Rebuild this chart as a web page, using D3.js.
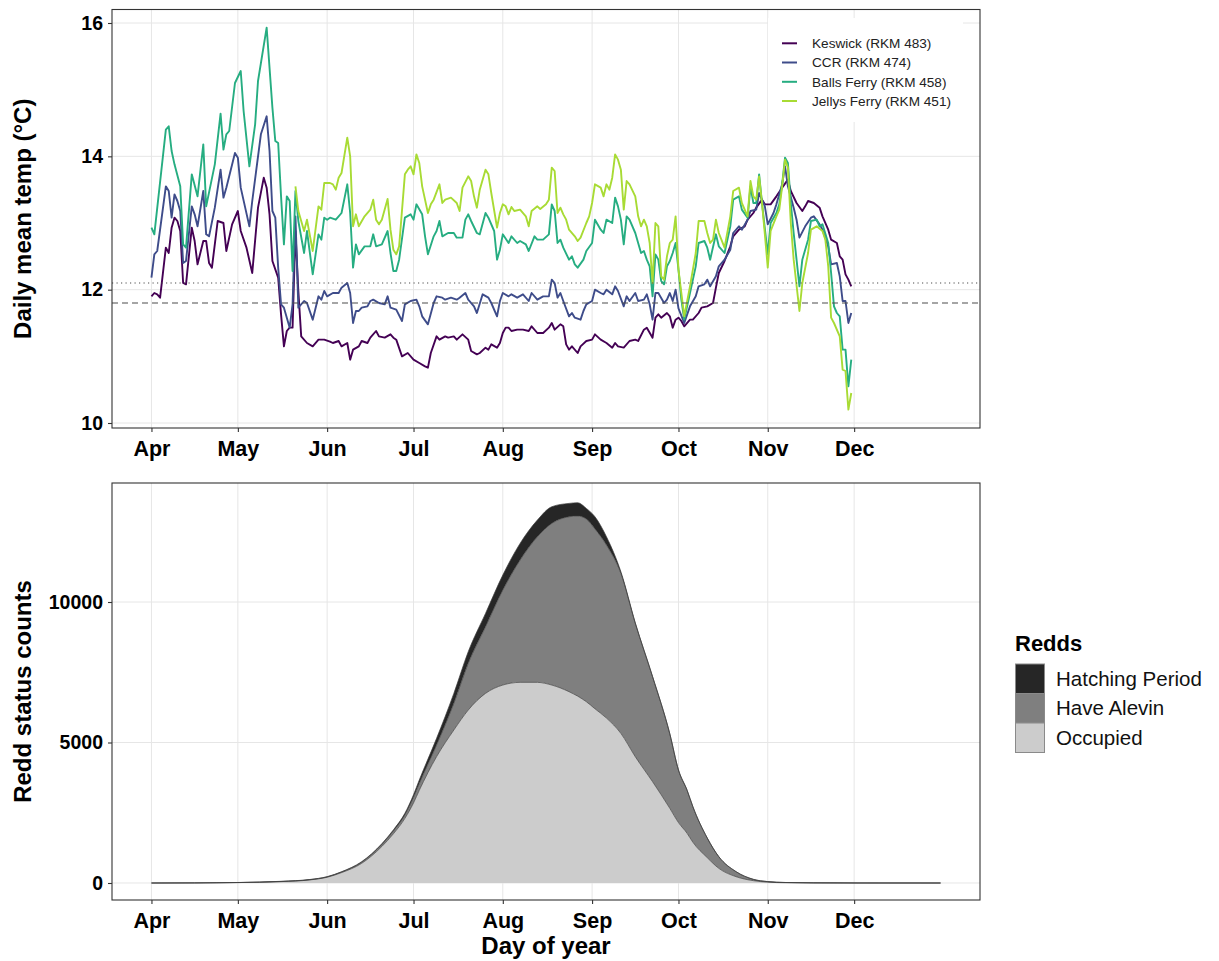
<!DOCTYPE html>
<html><head><meta charset="utf-8">
<script src="https://cdn.jsdelivr.net/npm/d3@7"></script>
<style>body{margin:0;background:#fff}svg{display:block}text{font-family:"Liberation Sans",Arial,sans-serif}</style>
</head><body><svg id="c" width="1219" height="961"></svg>
<script>
// ---------- DATA ----------
const monthLabels = ["Apr","May","Jun","Jul","Aug","Sep","Oct","Nov","Dec"];
const tempTicks = [10, 12, 14, 16];
const countTicks = [0, 5000, 10000];
const siteNames = ["Keswick (RKM 483)","CCR (RKM 474)","Balls Ferry (RKM 458)","Jellys Ferry (RKM 451)"];
const thresholdDotted = 12.1;
const thresholdDashed = 11.8;
// [day offset from Apr 1, daily mean temp °C]
const keswick = [[0,11.9],[1,11.95],[2,11.93],[3,11.88],[5,12.63],[6,12.55],[7,12.93],[8,13.08],[9,13.03],[10,12.88],[11,12.1],[12,12.08],[14,12.93],[15,12.73],[16,12.38],[18,12.73],[19,12.73],[20,12.4],[21,12.33],[23,13.03],[25,13.0],[26,12.58],[28,12.98],[30,13.18],[31,12.88],[33,12.63],[35,12.25],[37,13.23],[39,13.68],[40,13.53],[41,13.13],[42,12.43],[44,12.18],[45,11.63],[46,11.15],[47,11.38],[48,11.43],[49,11.43],[50,12.88],[51,11.98],[52,11.3],[54,11.2],[56,11.15],[58,11.25],[60,11.25],[62,11.22],[63,11.2],[65,11.23],[66,11.15],[68,11.2],[69,10.95],[70,11.1],[72,11.15],[73,11.23],[75,11.2],[76,11.28],[78,11.38],[79,11.3],[81,11.28],[83,11.33],[84,11.28],[85,11.25],[87,11.0],[89,11.05],[91,10.95],[93,10.9],[95,10.85],[96,10.83],[97,11.05],[99,11.3],[100,11.25],[102,11.3],[103,11.28],[105,11.3],[106,11.25],[108,11.33],[110,11.25],[111,11.08],[113,11.03],[114,11.05],[116,11.13],[117,11.1],[118,11.18],[120,11.13],[121,11.2],[122,11.35],[123,11.43],[124,11.43],[125,11.38],[127,11.4],[129,11.4],[131,11.38],[132,11.45],[134,11.35],[136,11.35],[138,11.43],[139,11.5],[140,11.4],[142,11.48],[143,11.45],[144,11.18],[145,11.1],[146,11.15],[148,11.05],[149,11.15],[151,11.23],[153,11.25],[154,11.33],[156,11.25],[158,11.2],[160,11.13],[161,11.2],[162,11.15],[164,11.13],[166,11.23],[168,11.25],[169,11.23],[171,11.4],[172,11.43],[174,11.28],[175,11.58],[176,11.63],[177,11.58],[179,11.65],[180,11.6],[181,11.43],[182,11.55],[183,11.58],[184,11.53],[185,11.45],[187,11.55],[188,11.55],[190,11.65],[191,11.73],[193,11.75],[195,11.8],[196,12.03],[197,12.25],[199,12.43],[201,12.65],[202,12.8],[204,12.9],[206,12.95],[207,13.05],[209,13.15],[210,13.23],[212,13.35],[213,13.28],[215,13.28],[217,13.4],[219,13.53],[221,13.65],[222,13.48],[224,13.3],[226,13.18],[227,13.25],[228,13.33],[230,13.3],[232,13.23],[233,13.1],[235,12.9],[236,12.75],[238,12.7],[239,12.5],[240,12.45],[241,12.23],[242,12.15],[243,12.05]];
const ccr = [[0,12.18],[1,12.53],[2,12.58],[5,13.55],[6,13.48],[7,13.08],[8,13.43],[9,13.33],[10,13.18],[11,12.4],[12,12.43],[14,13.25],[15,13.13],[16,12.95],[18,13.48],[19,12.83],[20,12.8],[22,13.23],[24,13.8],[25,13.38],[26,13.53],[29,14.05],[30,13.98],[31,13.53],[34,12.95],[35,13.33],[38,14.33],[40,14.6],[41,14.08],[42,13.18],[43,13.08],[44,12.33],[45,11.78],[46,11.73],[48,11.43],[49,11.78],[50,13.1],[51,11.73],[53,11.83],[54,11.8],[56,11.55],[58,11.9],[59,11.85],[60,11.98],[61,11.9],[63,11.95],[65,11.95],[66,12.03],[68,12.1],[69,11.95],[70,11.5],[71,11.68],[72,11.68],[73,11.73],[75,11.75],[76,11.83],[77,11.85],[79,11.8],[81,11.78],[82,11.9],[83,11.73],[85,11.7],[87,11.53],[88,11.78],[90,11.83],[92,11.85],[93,11.75],[94,11.6],[96,11.48],[98,11.8],[99,11.9],[101,11.88],[102,11.85],[104,11.88],[106,11.85],[107,11.88],[109,11.95],[110,11.85],[112,11.75],[113,11.65],[115,11.93],[117,11.88],[118,11.8],[120,11.6],[121,11.83],[122,11.95],[124,11.9],[125,11.93],[127,11.88],[129,11.93],[131,11.83],[132,11.95],[134,11.85],[136,11.9],[138,11.9],[139,12.15],[140,12.1],[141,11.88],[142,11.95],[143,11.83],[145,11.6],[146,11.65],[147,11.58],[149,11.55],[150,11.68],[151,11.78],[153,11.83],[154,12.0],[156,11.95],[157,11.93],[158,12.0],[160,11.93],[161,12.05],[162,11.98],[164,11.75],[165,11.9],[166,11.83],[168,11.95],[169,11.83],[171,11.85],[172,11.93],[173,11.78],[174,11.55],[175,11.95],[176,11.95],[178,11.8],[179,11.85],[180,11.95],[181,11.83],[182,12.0],[183,11.72],[185,11.5],[187,11.75],[189,11.9],[190,12.05],[192,12.08],[193,12.15],[194,12.05],[196,12.2],[197,12.35],[199,12.45],[201,12.6],[202,12.85],[204,12.95],[205,12.9],[207,13.05],[208,13.18],[210,13.2],[211,13.45],[213,13.25],[214,12.98],[216,13.15],[217,13.28],[219,13.58],[220,13.85],[221,13.55],[223,13.23],[224,13.05],[225,12.78],[227,12.95],[229,13.08],[230,13.1],[232,12.98],[233,12.9],[235,12.65],[236,12.38],[238,12.4],[239,12.2],[240,11.83],[241,11.83],[242,11.5],[243,11.65]];
const ballsFerry = [[0,12.93],[1,12.83],[5,14.4],[6,14.45],[7,14.08],[8,13.88],[10,13.55],[11,12.68],[12,12.63],[14,13.73],[16,13.4],[18,14.18],[19,13.25],[22,13.88],[24,14.64],[25,14.1],[26,14.33],[27,14.38],[29,15.1],[31,15.28],[32,14.68],[34,13.85],[36,14.48],[37,15.13],[40,15.93],[42,14.73],[43,14.23],[44,14.2],[45,13.4],[46,12.68],[47,13.4],[48,13.33],[49,12.28],[50,13.48],[51,13.03],[53,12.55],[54,12.88],[56,12.23],[58,12.83],[59,12.75],[60,13.08],[61,13.05],[62,13.08],[64,13.05],[65,13.1],[66,13.15],[68,13.58],[69,13.15],[70,12.33],[71,12.68],[72,12.53],[74,12.65],[76,12.65],[77,12.83],[78,12.65],[80,12.68],[82,12.88],[83,12.55],[84,12.28],[85,12.28],[86,12.45],[88,13.08],[90,13.13],[91,13.05],[92,13.28],[94,13.13],[95,12.8],[96,12.53],[98,12.8],[99,12.88],[100,13.03],[101,12.8],[103,12.85],[105,12.85],[106,12.78],[108,12.78],[109,13.05],[110,13.13],[111,13.03],[113,12.85],[114,12.83],[116,13.15],[117,13.08],[119,12.88],[120,12.45],[121,12.6],[122,12.83],[124,12.7],[125,12.8],[127,12.7],[128,12.73],[130,12.68],[131,12.58],[133,12.8],[134,12.75],[136,12.75],[138,12.83],[139,13.28],[140,13.18],[141,12.7],[142,12.75],[143,12.63],[145,12.45],[146,12.5],[147,12.38],[148,12.33],[150,12.45],[151,12.58],[153,12.7],[154,13.05],[156,12.9],[157,12.85],[158,13.05],[160,13.0],[161,13.38],[162,13.25],[163,13.05],[164,12.68],[165,13.1],[166,13.05],[168,12.85],[169,12.7],[170,12.55],[171,12.58],[172,12.45],[173,12.35],[174,11.9],[175,12.53],[176,12.45],[177,12.13],[178,12.08],[179,12.35],[180,12.43],[181,12.55],[182,12.7],[183,12.3],[184,11.85],[185,11.55],[187,11.95],[189,12.35],[190,12.7],[192,12.73],[193,12.63],[194,12.45],[196,12.83],[197,12.65],[199,12.55],[201,12.95],[202,13.35],[204,13.4],[205,13.2],[207,13.08],[208,13.55],[209,13.3],[210,13.3],[211,13.73],[212,13.3],[214,12.53],[215,13.0],[217,13.15],[218,13.28],[219,13.58],[220,13.98],[221,13.9],[222,13.3],[223,12.85],[225,12.05],[226,12.45],[228,12.75],[229,13.03],[231,13.05],[232,12.95],[233,12.98],[235,12.7],[236,12.25],[237,11.75],[238,11.65],[239,11.6],[240,11.1],[241,11.1],[242,10.55],[243,10.95]];
const jellysFerry = [[50,13.55],[51,13.18],[53,12.88],[54,13.05],[56,12.58],[58,13.25],[59,13.2],[60,13.6],[62,13.6],[63,13.58],[64,13.5],[65,13.68],[66,13.75],[68,14.28],[69,14.0],[70,12.95],[71,13.13],[72,12.95],[74,13.1],[76,13.2],[77,13.35],[78,13.05],[79,12.98],[80,13.05],[82,13.36],[83,12.9],[84,12.6],[85,12.53],[86,12.65],[88,13.73],[89,13.8],[90,13.85],[91,13.73],[92,14.03],[93,13.9],[94,13.55],[96,13.15],[97,13.28],[98,13.35],[100,13.58],[101,13.3],[102,13.35],[104,13.38],[106,13.3],[107,13.18],[108,13.53],[110,13.7],[111,13.63],[112,13.4],[113,13.23],[114,13.5],[116,13.8],[117,13.73],[118,13.45],[120,12.93],[121,13.15],[122,13.28],[123,13.25],[124,13.13],[125,13.24],[126,13.18],[128,13.2],[130,13.1],[131,12.95],[132,13.18],[134,13.25],[135,13.21],[137,13.28],[138,13.35],[139,13.83],[140,13.78],[141,13.15],[142,13.23],[143,13.13],[144,13.05],[145,12.9],[147,12.8],[148,12.73],[149,12.78],[151,13.0],[152,13.1],[153,13.3],[154,13.58],[156,13.53],[157,13.4],[158,13.58],[159,13.5],[160,13.68],[161,14.03],[162,13.95],[163,13.8],[164,13.2],[165,13.63],[166,13.58],[168,13.4],[169,13.1],[170,12.95],[171,13.05],[172,12.95],[173,12.7],[174,12.1],[175,13.0],[176,12.95],[177,12.2],[178,12.15],[179,12.5],[180,12.7],[181,12.75],[182,13.1],[183,12.3],[184,11.95],[185,11.6],[187,12.05],[189,12.55],[190,13.03],[192,13.03],[193,12.85],[194,12.7],[195,12.75],[196,13.05],[197,12.85],[199,12.63],[201,13.1],[202,13.48],[204,13.53],[205,13.3],[207,13.1],[208,13.63],[209,13.4],[210,13.35],[211,13.7],[212,13.3],[213,12.83],[214,12.33],[215,12.88],[217,13.1],[218,13.2],[219,13.55],[220,13.95],[221,13.83],[222,13.0],[223,12.45],[225,11.68],[226,12.1],[228,12.55],[229,12.9],[231,12.95],[233,12.88],[234,12.75],[235,12.35],[236,11.58],[237,11.5],[239,11.3],[240,10.8],[241,10.78],[242,10.2],[243,10.45]];

const reddStatus = ["Hatching Period","Have Alevin","Occupied"];
const reddDays = [0,15,30,45,55,61,66,73,80,84,88,91,93,99,105,110,116,122,128,134,139,145,148,151,154,158,163,168,174,180,183,186,188,193,197,203,209,214,220,230,245,274];
const occupied = [0,3,15,50,110,205,370,700,1300,1750,2300,2850,3300,4495,5444,6155,6748,7045,7140,7140,7045,6808,6650,6452,6200,5870,5325,4495,3605,2657,2150,1767,1450,900,522,225,83,30,10,3,1,0];
const haveAlevin = [0,0,1,5,8,13,20,40,70,100,120,200,240,415,949,1661,2372,3380,4352,5182,5752,6226,6410,6498,6400,6156,5693,4744,3736,2643,1870,1533,1266,700,415,178,47,20,8,2,0,0];
const hatchingPeriod = [0,1,2,5,7,7,10,20,30,40,60,90,125,237,355,415,475,534,593,594,593,475,472,381,434,296,59,21,9,10,5,0,0,0,0,0,0,0,0,0,0,0];

// ---------- LAYOUT ----------
const svg = d3.select("#c");
const L = 112, R = 980;
const P1 = {t: 9.5, b: 428}, P2 = {t: 483, b: 900};
const t0 = Date.UTC(2021, 3, 1);
const dayDate = d => new Date(t0 + d * 864e5);
const x = d3.scaleUtc().domain([dayDate(-13.7), dayDate(274 + 13.7)]).range([L, R]);
const monthDates = monthLabels.map((m, i) => new Date(Date.UTC(2021, 3 + i, 1)));
const y1 = d3.scaleLinear().domain([9.925, 16.2025]).range([P1.b, P1.t]);
const y2 = d3.scaleLinear().domain([-605, 14235]).range([P2.b, P2.t]);
const siteColors = [0, 0.23, 0.62, 0.87].map(t => d3.interpolateViridis(t));
const grid = "#e6e6e6", frame = "#333333";

function panelGrid(yS, ticks, P) {
  const g = svg.append("g");
  g.selectAll(".gx").data(monthDates).join("line")
    .attr("x1", d => x(d)).attr("x2", d => x(d)).attr("y1", P.t).attr("y2", P.b)
    .attr("stroke", grid).attr("stroke-width", 1);
  g.selectAll(".gy").data(ticks).join("line")
    .attr("x1", L).attr("x2", R).attr("y1", d => yS(d)).attr("y2", d => yS(d))
    .attr("stroke", grid).attr("stroke-width", 1);
}
function panelAxes(yS, ticks, P) {
  const ax = svg.append("g").attr("transform", `translate(0,${P.b})`)
    .call(d3.axisBottom(x).tickValues(monthDates).tickFormat((d, i) => monthLabels[i]).tickSize(4).tickPadding(8.5));
  const ay = svg.append("g").attr("transform", `translate(${L},0)`)
    .call(d3.axisLeft(yS).tickValues(ticks).tickFormat(d3.format("d")).tickSize(4).tickPadding(5));
  [ax, ay].forEach((a, k) => {
    a.select(".domain").remove();
    a.selectAll("line").attr("stroke", frame).attr("stroke-width", 1.1);
    a.selectAll("text").attr("font-size", k === 0 ? 21.5 : 19.5).attr("font-weight", "bold").attr("fill", "#000")
      .attr("font-family", "Liberation Sans, Arial, sans-serif");
  });
  svg.append("rect").attr("x", L).attr("y", P.t).attr("width", R - L).attr("height", P.b - P.t)
    .attr("fill", "none").attr("stroke", frame).attr("stroke-width", 1.1);
}

// ---------- TOP PANEL ----------
panelGrid(y1, tempTicks, P1);
svg.append("clipPath").attr("id", "cp1").append("rect")
  .attr("x", L).attr("y", P1.t).attr("width", R - L).attr("height", P1.b - P1.t);
const tempLine = d3.line().x(d => x(dayDate(d[0]))).y(d => y1(d[1]));
const series = [keswick, ccr, ballsFerry, jellysFerry];
const lg = svg.append("g").attr("clip-path", "url(#cp1)");
series.forEach((s, i) => {
  lg.append("path").attr("d", tempLine(s)).attr("fill", "none")
    .attr("stroke", siteColors[i]).attr("stroke-width", 1.9).attr("stroke-linejoin", "round");
});
lg.append("line").attr("x1", L).attr("x2", R).attr("y1", y1(thresholdDotted)).attr("y2", y1(thresholdDotted))
  .attr("stroke", "#4d4d4d").attr("stroke-width", 1.1).attr("stroke-dasharray", "1.2,3.3");
lg.append("line").attr("x1", L).attr("x2", R).attr("y1", y1(thresholdDashed)).attr("y2", y1(thresholdDashed))
  .attr("stroke", "#4d4d4d").attr("stroke-width", 1.1).attr("stroke-dasharray", "6,4");
// legend
svg.append("rect").attr("x", 768).attr("y", 18).attr("width", 195).attr("height", 104).attr("fill", "#fff");
const lgRows = [43.3, 62.5, 81.8, 101];
siteNames.forEach((n, i) => {
  svg.append("line").attr("x1", 782).attr("x2", 797).attr("y1", lgRows[i]).attr("y2", lgRows[i])
    .attr("stroke", siteColors[i]).attr("stroke-width", 2);
  svg.append("text").attr("x", 812).attr("y", lgRows[i]).attr("dy", "0.35em")
    .attr("font-size", 13.6).attr("fill", "#222").text(n);
});
panelAxes(y1, tempTicks, P1);
svg.append("text").attr("transform", `translate(31,${(P1.t + P1.b) / 2}) rotate(-90)`)
  .attr("text-anchor", "middle").attr("font-size", 24).attr("font-weight", "bold").text("Daily mean temp (°C)");

// ---------- BOTTOM PANEL ----------
panelGrid(y2, countTicks, P2);
const rows = reddDays.map((d, i) => ({day: d, occ: occupied[i], alev: haveAlevin[i], hatch: hatchingPeriod[i]}));
const stacked = d3.stack().keys(["occ", "alev", "hatch"])(rows);
const fills = {occ: "#cccccc", alev: "#7f7f7f", hatch: "#262626"};
const areaGen = d3.area().curve(d3.curveMonotoneX).x(d => x(dayDate(d.data.day))).y0(d => y2(d[0])).y1(d => y2(d[1]));
const edgeGen = d3.line().curve(d3.curveMonotoneX).x(d => x(dayDate(d.data.day))).y(d => y2(d[1]));
stacked.slice().reverse().forEach(layer => {
  svg.append("path").attr("d", areaGen(layer)).attr("fill", fills[layer.key]);
});
stacked.forEach(layer => {
  svg.append("path").attr("d", edgeGen(layer)).attr("fill", "none").attr("stroke", "#3c3c3c").attr("stroke-width", 0.7);
});
panelAxes(y2, countTicks, P2);
svg.append("text").attr("transform", `translate(31,${(P2.t + P2.b) / 2}) rotate(-90)`)
  .attr("text-anchor", "middle").attr("font-size", 24).attr("font-weight", "bold").text("Redd status counts");
svg.append("text").attr("x", (L + R) / 2).attr("y", 954).attr("text-anchor", "middle")
  .attr("font-size", 24).attr("font-weight", "bold").text("Day of year");

// legend
svg.append("text").attr("x", 1015).attr("y", 651).attr("font-size", 22).attr("font-weight", "bold").text("Redds");
const keyFill = ["#262626", "#7f7f7f", "#cccccc"];
reddStatus.forEach((n, i) => {
  const yk = 664 + i * 29.5;
  svg.append("rect").attr("x", 1015.5).attr("y", yk).attr("width", 29).attr("height", 29.5)
    .attr("fill", keyFill[i]).attr("stroke", "#8a8a8a").attr("stroke-width", 1);
  svg.append("text").attr("x", 1056).attr("y", yk + 14.75).attr("dy", "0.35em")
    .attr("font-size", 20.5).attr("fill", "#111").text(n);
});
</script></body></html>
